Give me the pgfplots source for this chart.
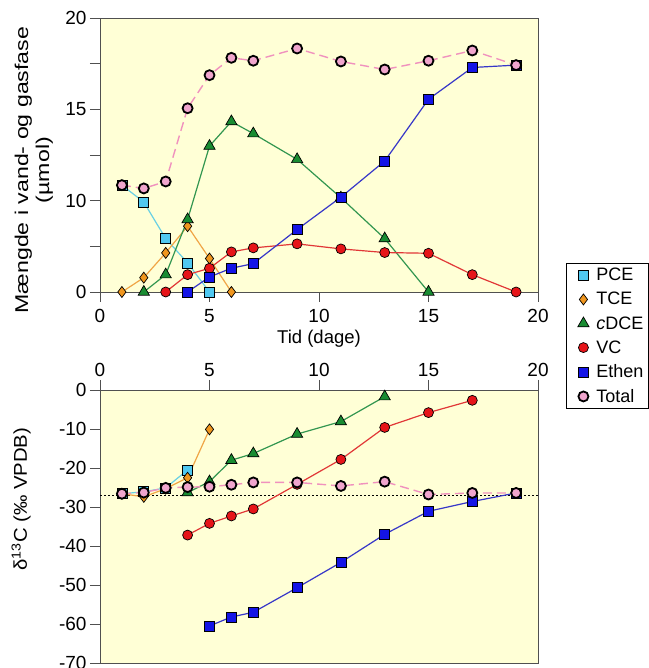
\documentclass[border=0pt]{standalone}
\usepackage{fontspec}
\setmainfont{Liberation Sans}
\usepackage{graphicx}
\usepackage{pgfplots}
\pgfplotsset{compat=1.18}

\definecolor{bgy}{RGB}{255,255,214}
\definecolor{pcef}{RGB}{80,200,240}
\definecolor{pcel}{RGB}{105,208,228}
\definecolor{tcef}{RGB}{240,150,30}
\definecolor{tcel}{RGB}{240,165,70}
\definecolor{dcef}{RGB}{25,140,50}
\definecolor{dcel}{RGB}{50,150,80}
\definecolor{vcf}{RGB}{230,20,25}
\definecolor{vcl}{RGB}{225,55,55}
\definecolor{etf}{RGB}{20,20,230}
\definecolor{etl}{RGB}{55,55,200}
\definecolor{totf}{RGB}{240,165,205}
\definecolor{totl}{RGB}{240,145,190}
\definecolor{framec}{RGB}{80,80,80}

\pgfplotsset{
 base/.style={scale only axis, width=438pt, clip=false,
   xmin=0, xmax=20, xtick={0,5,...,20},
   axis background/.style={fill=bgy},
   axis line style={draw=framec, line width=0.9pt},
   tick style={draw=framec, line width=0.9pt},
   tick align=outside, major tick length=10pt,
   tick label style={font=\fontsize{19}{21}\selectfont},
   label style={font=\fontsize{18.5}{21}\selectfont},
   /pgf/number format/assume math mode=true,
 },
 limg/.style={legend image code/.code={\draw[mark repeat=2,mark phase=2,##1,draw=none] plot coordinates {(0pt,0pt)(14pt,0pt)(25pt,0pt)};}},
 pce/.style={color=pcel, line width=1.2pt, mark=square*, mark size=5pt,
   mark options={solid, fill=pcef, draw=black, line width=0.7pt}},
 tce/.style={color=tcel, line width=1.2pt, mark=diamond*, mark size=5.5pt,
   mark options={solid, fill=tcef, draw=black, line width=0.7pt}},
 dce/.style={color=dcel, line width=1.2pt, mark=triangle*, mark size=6.5pt,
   mark options={solid, fill=dcef, draw=black, line width=0.7pt}},
 vc/.style={color=vcl, line width=1.2pt, mark=*, mark size=5pt,
   mark options={solid, fill=vcf, draw=black, line width=0.7pt}},
 eth/.style={color=etl, line width=1.2pt, mark=square*, mark size=5pt,
   mark options={solid, fill=etf, draw=black, line width=0.7pt}},
 tot/.style={color=totl, line width=1.4pt, dash pattern=on 9pt off 5pt, mark=*, mark size=5pt,
   mark options={solid, fill=totf, draw=black, line width=1.8pt}},
}

\begin{document}
\begin{tikzpicture}
\useasboundingbox (0,0) rectangle (648pt,668pt);

% ---------- top panel ----------
\begin{axis}[base,
  at={(100pt,376pt)}, anchor=south west, height=274pt,
  ymin=0, ymax=15,
  y filter/.expression={y<10 ? y/2 : y-5},
  ytick={0,2.5,5,7.5,10,12.5,15}, yticklabels={0,,10,,15,,20},
  xtick pos=lower, ytick pos=left,
  xticklabel style={yshift=-4pt},
  xlabel={Tid (dage)},
  ylabel={\scalebox{1.25}[1]{\begin{tabular}{@{}c@{}}Mængde i vand- og gasfase\\(µmol)\end{tabular}}},
  ylabel style={at={(axis description cs:-0.15,0.445)}, anchor=center},
  legend style={at={(1.064,0.106)}, anchor=north west, draw=black, line width=0.8pt,
    font=\fontsize{18}{20}\selectfont, row sep=6pt, inner sep=3pt, fill=white},
  legend cell align=left,
]
\addlegendimage{pce, limg}\addlegendentry{PCE}
\addlegendimage{tce, limg}\addlegendentry{TCE}
\addlegendimage{dce, limg}\addlegendentry{\textit{c}DCE}
\addlegendimage{vc, limg}\addlegendentry{VC}
\addlegendimage{eth, limg}\addlegendentry{Ethen}
\addlegendimage{tot, limg}\addlegendentry{Total}

\addplot[pce, forget plot] coordinates {(1,10.85)(2,9.84)(3,5.85)(4,3.18)(5,0)};
\addplot[tce, forget plot] coordinates {(1,0)(2,1.57)(3,4.28)(4,7.21)(5,3.66)(6,0)};
\addplot[dce, forget plot] coordinates {(2,0)(3,1.9)(4,7.94)(5,12.99)(6,14.33)(7,13.67)(9,12.26)(11,10.16)(13,5.85)(15,0)};
\addplot[vc, forget plot] coordinates {(3,0)(4,1.9)(5,2.6)(6,4.39)(7,4.83)(9,5.27)(11,4.72)(13,4.32)(15,4.24)(17,1.9)(19,0)};
\addplot[eth, forget plot] coordinates {(4,0)(5,1.65)(6,2.6)(7,3.11)(9,6.84)(11,10.19)(13,12.17)(15,15.55)(17,17.29)(19,17.42)};
\addplot[tot, forget plot] coordinates {(1,10.85)(2,10.67)(3,11.05)(4,15.06)(5,16.87)(6,17.82)(7,17.66)(9,18.33)(11,17.62)(13,17.18)(15,17.66)(17,18.22)(19,17.42)};
\end{axis}

% ---------- bottom panel ----------
\begin{axis}[base,
  at={(100pt,5pt)}, anchor=south west, height=273pt,
  ymin=-70, ymax=0, ytick={-70,-60,...,0},
  xtick pos=upper, xticklabel pos=upper, ytick pos=left,
  ylabel={\scalebox{1.1}[1]{δ\textsuperscript{13}C (‰ VPDB)}},
  ylabel style={at={(axis description cs:-0.18,0.60)}, anchor=center},
]
\addplot[black, line width=1.3pt, dash pattern=on 1.5pt off 2.5pt, forget plot] coordinates {(0,-27.1)(20,-27.1)};
\addplot[pce] coordinates {(1,-26.6)(2,-26.1)(3,-25.1)(4,-20.5)};
\addplot[tce] coordinates {(1,-26.6)(2,-27.4)(3,-25.3)(4,-22.5)(5,-10.1)};
\addplot[dce] coordinates {(4,-26.3)(5,-23.5)(6,-18.0)(7,-16.3)(9,-11.3)(11,-8.1)(13,-1.7)};
\addplot[vc] coordinates {(4,-37.2)(5,-34.2)(6,-32.3)(7,-30.5)(9,-24.2)(11,-17.8)(13,-9.6)(15,-5.8)(17,-2.65)};
\addplot[eth] coordinates {(5,-60.5)(6,-58.2)(7,-57.0)(9,-50.7)(11,-44.2)(13,-37.0)(15,-31.1)(17,-28.6)(19,-26.4)};
\addplot[tot] coordinates {(1,-26.6)(2,-26.3)(3,-25.1)(4,-24.9)(5,-24.8)(6,-24.3)(7,-23.7)(9,-23.7)(11,-24.6)(13,-23.5)(15,-26.8)(17,-26.4)(19,-26.4)};
\end{axis}
\end{tikzpicture}
\end{document}
